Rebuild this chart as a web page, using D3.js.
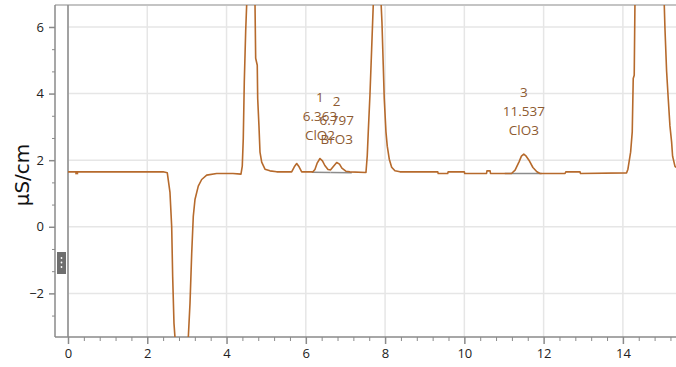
<!DOCTYPE html>
<html>
<head>
<meta charset="utf-8">
<script src="https://cdn.jsdelivr.net/npm/d3@7"></script>
<style>
  html, body { margin: 0; padding: 0; background: #fff; }
  svg { display: block; }
</style>
</head>
<body>
<svg id="chart" width="676" height="367"></svg>
<script>
// ---- data (time in min, conductivity in µS/cm) ----
const traceTime = [
  0, 2.4, 2.505, 2.573, 2.616, 2.641, 2.674, 2.699, 2.78, 2.9, 2.98, 3.035, 3.078, 3.121, 3.161, 3.204, 3.287, 3.373, 3.499, 3.751, 4.162, 4.364,
  4.397, 4.422, 4.448, 4.483, 4.508, 4.6, 4.717, 4.735, 4.775, 4.786, 4.818, 4.844, 4.887, 4.97, 5.096, 5.265,
  5.643, 5.71, 5.77, 5.83, 5.896,
  6.18, 6.23, 6.29, 6.357, 6.42, 6.48, 6.56, 6.627, 6.7, 6.779, 6.85, 6.91, 7.01, 7.11,
  7.518, 7.55, 7.576, 7.618, 7.661, 7.702, 7.795, 7.896, 7.921, 7.954, 7.979, 8.022, 8.055, 8.106, 8.166, 8.249, 8.375,
  9.33, 9.34, 9.58, 9.59, 10.0, 10.01, 10.56, 10.57, 10.65, 10.66,
  11.19, 11.28, 11.38, 11.44, 11.5, 11.56, 11.63, 11.73, 11.83, 11.91,
  12.54, 12.56, 12.92, 12.93,
  14.094, 14.127, 14.195, 14.236, 14.261, 14.286, 14.304, 14.68, 15.043, 15.061, 15.103, 15.144, 15.187, 15.229, 15.254, 15.313, 15.34
];
const traceValue = [
  1.65, 1.65, 1.62, 1.03, 0.0, -1.5, -2.9, -3.32, -5.5, -6.5, -5.0, -3.33, -2.3, -0.8, 0.31, 0.82, 1.22, 1.42, 1.55, 1.6, 1.6, 1.58,
  1.82, 2.64, 4.36, 5.88, 6.67, 22, 6.8, 5.06, 4.85, 3.85, 3.03, 2.24, 1.94, 1.73, 1.68, 1.65,
  1.65, 1.8, 1.9, 1.8, 1.65,
  1.65, 1.72, 1.92, 2.05, 1.98, 1.84, 1.72, 1.71, 1.82, 1.93, 1.88, 1.76, 1.67, 1.65,
  1.63, 2.13, 2.85, 3.95, 5.33, 6.67, 22, 6.79, 6.15, 4.85, 3.85, 2.85, 2.42, 2.03, 1.79, 1.68, 1.65,
  1.65, 1.6, 1.6, 1.65, 1.65, 1.6, 1.6, 1.68, 1.68, 1.6,
  1.6, 1.7, 1.95, 2.12, 2.18, 2.12, 2.0, 1.78, 1.65, 1.6,
  1.6, 1.65, 1.65, 1.6,
  1.62, 1.73, 2.24, 2.85, 4.45, 4.55, 6.67, 22, 6.7, 5.97, 4.67, 3.85, 3.03, 2.55, 2.12, 1.82, 1.78
];

const peakNumber = ["1", "2", "3"];
const peakRetention = ["6.363", "6.797", "11.537"];
const peakName = ["ClO2", "BrO3", "ClO3"];
const peakApexTime = [6.357, 6.779, 11.5];
const peakApexValue = [2.05, 1.93, 2.18];
const peakBaseStart = [6.15, 6.627, 11.02];
const peakBaseEnd = [6.627, 7.16, 11.95];
const peakBaseStartValue = [1.64, 1.63, 1.6];
const peakBaseEndValue = [1.63, 1.62, 1.6];

const markerTime = [0.22];
const markerValue = [1.62];

const xTicks = [0, 2, 4, 6, 8, 10, 12, 14];
const yTicks = [-2, 0, 2, 4, 6];
const yTitle = "µS/cm";

(function () {
// ---- layout ----
const svg = d3.select("#chart");
const mL = 68, mR = 676, mT = 5, mB = 337;
const x = d3.scaleLinear().domain([0, 15.34]).range([mL, mR]);
const y = d3.scaleLinear().domain([-3.31, 6.66]).range([mB, mT]);

const gridColor = "#e6e6e6";
const axisColor = "#8a8a8a";
const traceColor = "#b66a2c";
const labelColor = "#8d5a31";
const font = "'Open Sans', sans-serif";

// gridlines
svg.append("g").selectAll("line").data(xTicks).join("line")
  .attr("x1", d => x(d)).attr("x2", d => x(d))
  .attr("y1", mT).attr("y2", mB)
  .attr("stroke", gridColor).attr("stroke-width", 1.5);
svg.append("g").selectAll("line").data(yTicks).join("line")
  .attr("x1", mL).attr("x2", mR)
  .attr("y1", d => y(d)).attr("y2", d => y(d))
  .attr("stroke", gridColor).attr("stroke-width", 1.5);

// frame: top border, left scrollbar area
svg.append("line").attr("x1", 55).attr("x2", mR).attr("y1", mT).attr("y2", mT)
  .attr("stroke", "#c4c4c4").attr("stroke-width", 2);
svg.append("line").attr("x1", 55).attr("x2", 55).attr("y1", mT).attr("y2", mB)
  .attr("stroke", axisColor).attr("stroke-width", 1.5);
svg.append("line").attr("x1", mL).attr("x2", mL).attr("y1", mT).attr("y2", mB)
  .attr("stroke", axisColor).attr("stroke-width", 1.5);

// scrollbar handle
svg.append("rect").attr("x", 57).attr("y", 252).attr("width", 9).attr("height", 22)
  .attr("fill", "#6e6e6e");
svg.append("g").selectAll("circle").data([0, 1, 2]).join("circle")
  .attr("cx", 61.5).attr("cy", d => 258 + d * 4.5).attr("r", 0.9).attr("fill", "#fff");

// x axis
const xAxis = d3.axisBottom(x).tickValues(xTicks).tickSize(7).tickPadding(5).tickFormat(d3.format("d"));
const gx = svg.append("g").attr("transform", `translate(0,${mB})`).call(xAxis);
gx.select(".domain").remove();
svg.append("line").attr("x1", 55).attr("x2", mR).attr("y1", mB).attr("y2", mB)
  .attr("stroke", axisColor).attr("stroke-width", 1.5);
gx.selectAll("line").attr("stroke", axisColor).attr("stroke-width", 1.5);
gx.selectAll("text").attr("font-family", font).attr("font-size", 13).attr("fill", "#222");
const xMinor = d3.range(0, 15.34, 0.4).filter(v => Math.abs(v / 2 - Math.round(v / 2)) > 0.01);
svg.append("g").attr("transform", `translate(0,${mB})`)
  .call(d3.axisBottom(x).tickValues(xMinor).tickSize(4).tickFormat(""))
  .call(g => g.select(".domain").remove())
  .selectAll("line").attr("stroke", axisColor).attr("stroke-width", 1);

// y axis (drawn at the scrollbar's left edge)
const yAxis = d3.axisLeft(y).tickValues(yTicks).tickSize(6).tickPadding(5).tickFormat(d3.format("d"));
const gy = svg.append("g").attr("transform", "translate(55,0)").call(yAxis);
gy.select(".domain").remove();
gy.selectAll("line").attr("stroke", axisColor).attr("stroke-width", 1.5);
gy.selectAll("text").attr("font-family", font).attr("font-size", 13).attr("fill", "#222");
const yMinor = [];
for (let i = 0; i < yTicks.length; i++) {
  [-2 / 3, -4 / 3, 2 / 3, 4 / 3].forEach(o => {
    const v = yTicks[i] + o;
    if (v > -3.31 && v < 6.66 && !yMinor.some(m => Math.abs(m - v) < 1e-6) && !yTicks.some(t => Math.abs(t - v) < 1e-6)) yMinor.push(v);
  });
}
svg.append("g").attr("transform", "translate(55,0)")
  .call(d3.axisLeft(y).tickValues(yMinor).tickSize(3).tickFormat(""))
  .call(g => g.select(".domain").remove())
  .selectAll("line").attr("stroke", axisColor).attr("stroke-width", 1);

// y title
svg.append("text")
  .attr("transform", `translate(29,${(mT + mB) / 2 + 4}) rotate(-90)`)
  .attr("text-anchor", "middle")
  .attr("font-family", "'DejaVu Sans', sans-serif").attr("font-size", 20).attr("fill", "#111")
  .text(yTitle);

// clip
svg.append("clipPath").attr("id", "plotclip").append("rect")
  .attr("x", mL).attr("y", mT).attr("width", mR - mL).attr("height", mB - mT);
const plot = svg.append("g").attr("clip-path", "url(#plotclip)");

// peak baselines
plot.append("g").selectAll("line").data(peakBaseStart).join("line")
  .attr("x1", (d, i) => x(d)).attr("x2", (d, i) => x(peakBaseEnd[i]))
  .attr("y1", (d, i) => y(peakBaseStartValue[i])).attr("y2", (d, i) => y(peakBaseEndValue[i]))
  .attr("stroke", "#8c8c8c").attr("stroke-width", 1.5);

// trace
const pts = traceTime.map((t, i) => [t, traceValue[i]]);
plot.append("path").datum(pts)
  .attr("fill", "none").attr("stroke", traceColor).attr("stroke-width", 1.6)
  .attr("stroke-linejoin", "round")
  .attr("d", d3.line().x(d => x(d[0])).y(d => y(d[1])));

// marker
plot.append("g").selectAll("rect").data(markerTime).join("rect")
  .attr("x", d => x(d) - 1.5).attr("y", (d, i) => y(markerValue[i]) - 1)
  .attr("width", 3).attr("height", 2.5).attr("fill", traceColor);

// peak labels
const lab = svg.append("g").attr("font-family", font).attr("font-size", 13.5)
  .attr("fill", labelColor).attr("text-anchor", "middle");
peakApexTime.forEach((t, i) => {
  const px = x(t), py = y(peakApexValue[i]) - 19;
  lab.append("text").attr("x", px).attr("y", py - 38).text(peakNumber[i]);
  lab.append("text").attr("x", px).attr("y", py - 19).text(peakRetention[i]);
  lab.append("text").attr("x", px).attr("y", py).text(peakName[i]);
});
})();
</script>
</body>
</html>
